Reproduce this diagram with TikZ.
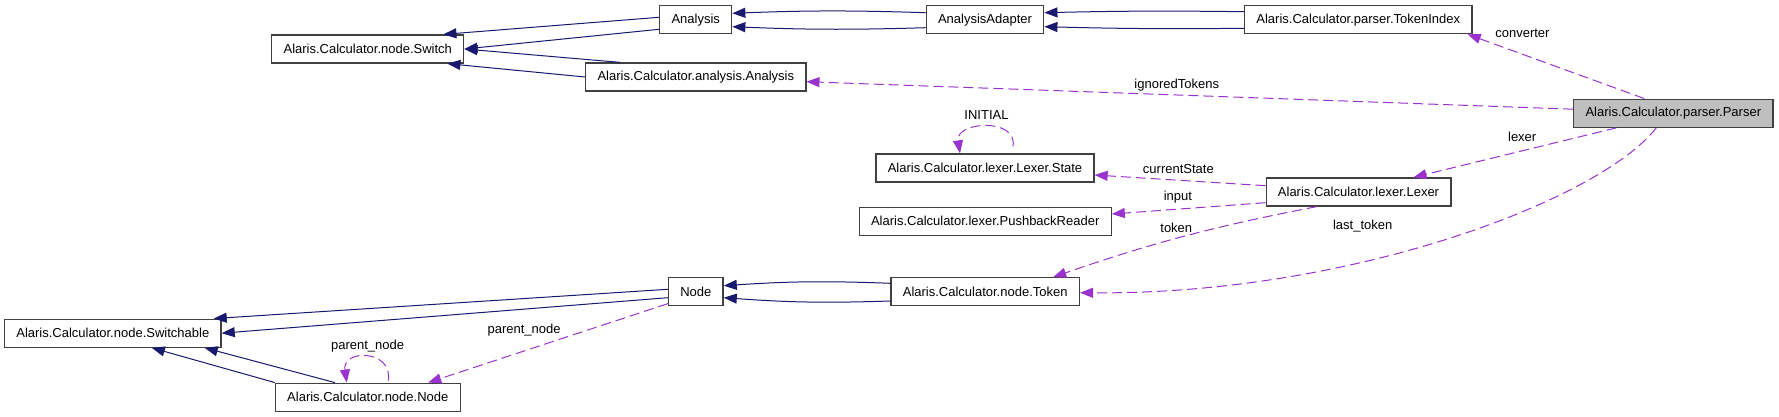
\documentclass[tikz,border=0pt]{standalone}
\usepackage{fontspec}
\setmainfont{Liberation Sans}
\usepackage{tikz}
\usetikzlibrary{arrows.meta}
\definecolor{Navy}{HTML}{191970}
\definecolor{Orchid}{HTML}{9A32CD}
\definecolor{Frame}{HTML}{404040}
\definecolor{Shade}{HTML}{BFBFBF}

\begin{document}
\begin{tikzpicture}[x=1pt,y=-1pt,
cls/.style={draw=Frame,line width=1.3pt,fill=white,inner xsep=11.8pt,inner ysep=0pt,minimum height=28pt,font=\fontsize{13}{15}\selectfont},
focus/.style={cls,fill=Shade},
inh/.style={-{Triangle[length=13pt,width=10pt]},draw=Navy,line width=1pt},
member/.style={-{Triangle[length=13pt,width=10pt]},draw=Orchid,line width=1pt,dash pattern=on 10pt off 5pt},
lab/.style={font=\fontsize{13}{15}\selectfont,inner sep=0pt}]
\useasboundingbox (0,0) rectangle (1779,417);
\node[cls] (sw) at (367.8,49) {Alaris.Calculator.node.Switch};
\node[cls] (an) at (695.7,19.7) {Analysis};
\node[cls] (aa) at (985,19.7) {AnalysisAdapter};
\node[cls] (ti) at (1358.3,19.7) {Alaris.Calculator.parser.TokenIndex};
\node[cls] (aan) at (695.8,77) {Alaris.Calculator.analysis.Analysis};
\node[focus] (pa) at (1673.3,113.2) {Alaris.Calculator.parser.Parser};
\node[cls] (st) at (985,168) {Alaris.Calculator.lexer.Lexer.State};
\node[cls] (pb) at (985.2,221.3) {Alaris.Calculator.lexer.PushbackReader};
\node[cls] (lx) at (1358.5,192) {Alaris.Calculator.lexer.Lexer};
\node[cls] (nd) at (695.8,291.7) {Node};
\node[cls] (tk) at (985.2,291.7) {Alaris.Calculator.node.Token};
\node[cls] (swb) at (112.8,333.2) {Alaris.Calculator.node.Switchable};
\node[cls] (nn) at (367.8,397.2) {Alaris.Calculator.node.Node};
\draw[inh] ([yshift=2.4pt]an.west)--([xshift=-21pt]sw.north east);
\draw[inh] ([yshift=-9.6pt]an.west)--(sw.east);
\draw[inh] ([xshift=-76pt]aan.north)--(sw.east);
\draw[inh] (aan.west)--([xshift=-17pt]sw.south east);
\draw[inh] ([yshift=7pt]aa.west) to[bend right=2] ([yshift=6.4pt]an.east);
\draw[inh] ([yshift=-8pt]aa.west) to[bend left=2] ([yshift=-7pt]an.east);
\draw[inh] ([yshift=8pt]ti.west) to[bend right=1] ([yshift=7pt]aa.east);
\draw[inh] ([yshift=-8.6pt]ti.west) to[bend left=1] ([yshift=-7pt]aa.east);
\draw[inh] ([yshift=8.4pt]tk.west) to[bend right=3] ([yshift=6pt]nd.east);
\draw[inh] ([yshift=-9.3pt]tk.west) to[bend left=3] ([yshift=-6pt]nd.east);
\draw[inh] ([yshift=2.4pt]nd.west)--([xshift=-8pt]swb.north east);
\draw[inh] ([yshift=-6pt]nd.west)--(swb.east);
\draw[inh] ([xshift=-33pt]nn.north)--([xshift=-17pt]swb.south east);
\draw[inh] (nn.north west)--([xshift=39pt]swb.south);
\draw[member] ([xshift=-29pt]pa.north)--node[lab,pos=.69,yshift=21pt]{converter}([xshift=-5pt]ti.south east);
\draw[member] ([yshift=4pt]pa.west)--node[lab,pos=.517,yshift=10pt]{ignoredTokens}([yshift=-4.7pt]aan.east);
\draw[member] ([xshift=-57pt]pa.south)--node[lab,pos=.464,yshift=14pt]{lexer}([xshift=55pt]lx.north);
\draw[member] ([xshift=-17pt]pa.south) .. controls (1600,200) and (1350,295) .. node[lab,pos=.63,yshift=35pt]{last\_token} ([yshift=-1pt]tk.east);
\draw[member] ([yshift=6.3pt]lx.west)--node[lab,pos=.51,yshift=11.5pt]{currentState}([yshift=-7pt]st.east);
\draw[member] ([yshift=-10.7pt]lx.west)--node[lab,pos=.57,yshift=12.4pt]{input}([yshift=7.3pt]pb.east);
\draw[member] ([xshift=-41.8pt]lx.south) to[bend right=4] node[lab,pos=.53,yshift=11pt]{token} ([xshift=68pt]tk.north);
\draw[member] ([yshift=2.7pt]nd.south west)--node[lab,pos=.6,yshift=21pt]{parent\_node}([xshift=-32.6pt]nn.north east);
\draw[member] ([xshift=28pt,yshift=7pt]st.north) .. controls +(5,-29) and +(-5,-32) .. node[lab,pos=.5,yshift=12pt]{INITIAL} ([xshift=-25pt]st.north);
\draw[member] ([xshift=20.5pt,yshift=2pt]nn.north) .. controls +(5,-31) and +(-5,-34) .. node[lab,pos=.5,yshift=11pt]{parent\_node} ([xshift=-21pt]nn.north);
\end{tikzpicture}
\end{document}
